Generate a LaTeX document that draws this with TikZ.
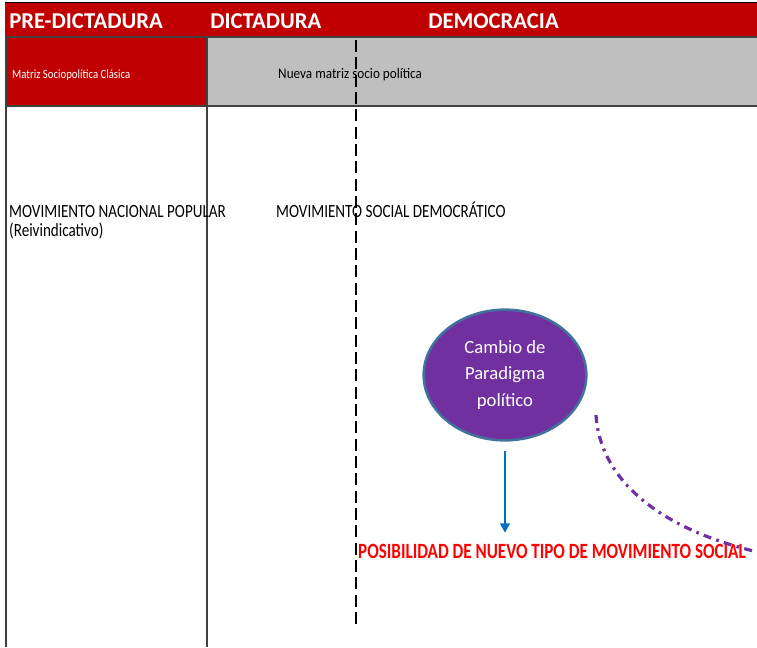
\documentclass[tikz,border=0pt]{standalone}
\usepackage{fontspec}
\setmainfont{Carlito}
\usetikzlibrary{arrows.meta, positioning, shapes.geometric}
\definecolor{periodred}{HTML}{C00000}
\definecolor{matrixgray}{HTML}{BFBFBF}
\definecolor{gridgray}{HTML}{404040}
\definecolor{paradigmpurple}{HTML}{7030A0}
\definecolor{paradigmedge}{HTML}{41719C}
\definecolor{arrowblue}{HTML}{0070C0}
\definecolor{possibilityred}{HTML}{FF0000}

\tikzset{
  period/.style={white, anchor=base west, inner sep=0pt, font=\fontsize{17}{17}\selectfont\bfseries},
  movement/.style={anchor=base west, inner sep=0pt, xscale=0.81, font=\fontsize{14}{14}\selectfont},
  gridline/.style={gridgray, line width=1.4pt},
}

\begin{document}
\begin{tikzpicture}[x=0.75pt, y=-0.75pt]
  \useasboundingbox (0,0) rectangle (757,647);
  \clip (0,0) rectangle (757,647);

  % Header background
  \fill[periodred] (5,3) rectangle (757,37);
  \draw[black, line width=1.2pt] (5,2.5) -- (757,2.5);

  % Period labels
  \node[period] (predictadura) at (9,28) {PRE-DICTADURA};
  \node[period] (dictadura) at (210,28) {DICTADURA};
  \node[period] (democracia) at (428,28) {DEMOCRACIA};

  % Matrix row
  \fill[periodred] (6,38) rectangle (207,106);
  \fill[matrixgray] (207,38) rectangle (757,106);
  \node[white, anchor=west, inner sep=0pt, xscale=0.85, font=\fontsize{9.5}{9.5}\selectfont] (clasica) at (12,75) {Matriz Sociopolítica Clásica};
  \node[anchor=west, inner sep=0pt, xscale=0.9, font=\fontsize{11}{11}\selectfont] (nueva) at (278,75) {Nueva matriz socio política};

  % Grid lines
  \draw[gridline] (6,37) -- (757,37);
  \draw[gridline] (6,106) -- (757,106);
  \draw[gridline] (6,37) -- (6,647);
  \draw[gridline] (207,37) -- (207,647);

  % Transition marker
  \draw[black, line width=1pt, dash pattern=on 9pt off 4pt] (356,40) -- (356,625);

  % Movements
  \node[movement] (nacional) at (9,217) {MOVIMIENTO NACIONAL POPULAR};
  \node[movement] (reivindicativo) at (9,236) {(Reivindicativo)};
  \node[movement] (democratico) at (276,217) {MOVIMIENTO SOCIAL DEMOCRÁTICO};

  % Paradigm change
  \node[ellipse, draw=paradigmedge, line width=1.9pt, fill=paradigmpurple,
        minimum width=122pt, minimum height=98pt, inner sep=0pt,
        text=white, align=center, font=\fontsize{14}{20}\selectfont] (cambio) at (505,375)
        {Cambio de\\Paradigma\\político};

  % Possibility
  \node[possibilityred, anchor=base west, inner sep=0pt, xscale=0.785,
        font=\fontsize{16.3}{16.3}\selectfont\bfseries] (posibilidad) at (358,558)
        {POSIBILIDAD DE NUEVO TIPO DE MOVIMIENTO SOCIAL};

  \draw[arrowblue, line width=2.2pt, -{Triangle[length=7pt, width=7pt]},
        shorten <=7pt, shorten >=8pt] (cambio.south) -- (cambio.south |- posibilidad.north);

  % Dash-dot link off to the right
  \coordinate (curvestart) at (596,415);
  \coordinate (curveend) at (762,553);
  \draw[paradigmpurple, line width=2.4pt, dash pattern=on 6pt off 4pt on 2pt off 4pt]
    (curvestart) .. controls (600,480) and (660,530) .. (curveend);
\end{tikzpicture}
\end{document}
